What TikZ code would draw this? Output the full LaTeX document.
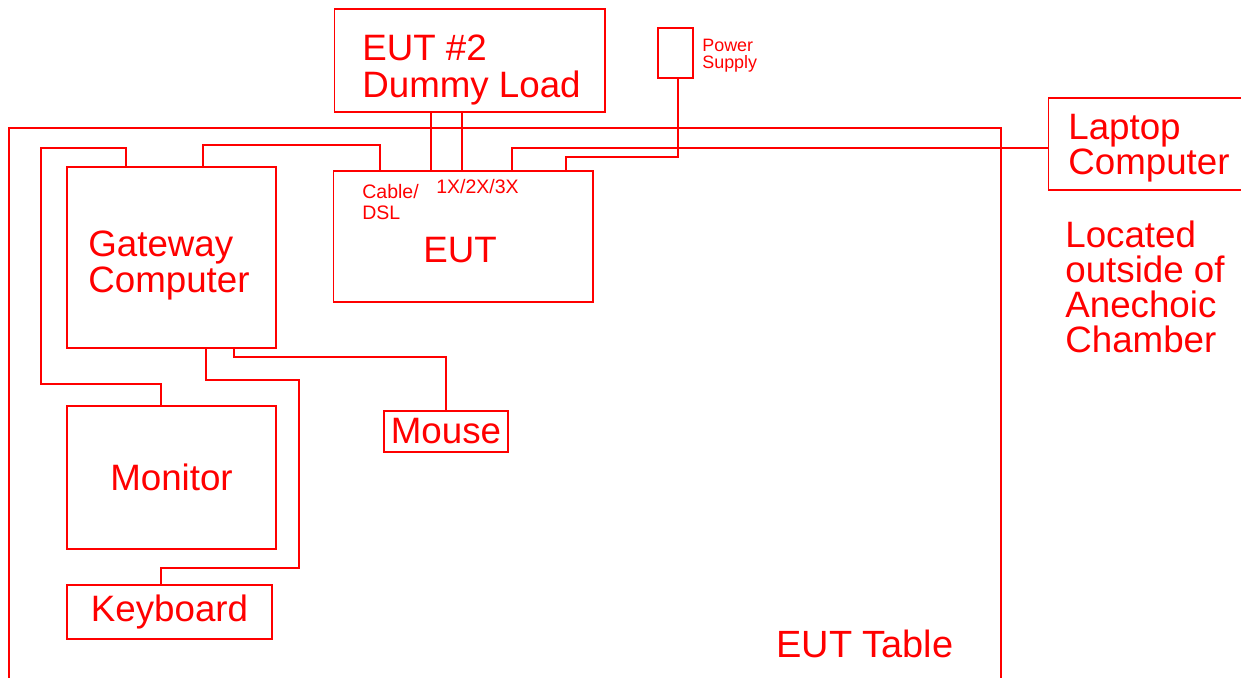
\documentclass[tikz,border=0pt]{standalone}
\usepackage{fontspec}
\setmainfont{Liberation Sans}
\usetikzlibrary{positioning}

\begin{document}
\begin{tikzpicture}[
  x=0.02cm, y=-0.02cm,
  font=\fontsize{20.9}{18}\selectfont,
  box/.style={draw=red, line width=0.6pt, text=red, inner sep=0pt, align=center},
  lbl/.style={text=red, inner sep=0pt, align=left},
  small/.style={font=\fontsize{11.1}{11.9}\selectfont},
  wire/.style={draw=red, line width=0.6pt}
]
\useasboundingbox (0,0) rectangle (1241,678);
\draw[wire] (9,678) |- (1001,128) -- (1001,678);
\node[lbl, anchor=base west, font=\fontsize{21.6}{18}\selectfont] (tablelbl) at (776,658) {EUT Table};
\node[box, minimum width=4.18cm, minimum height=3.62cm] (gateway) at (171.5,257.5) {};
\node[lbl, anchor=north west] (gatewaylbl) at (88,231) {Gateway\\Computer};
\node[box, minimum width=4.18cm, minimum height=2.86cm] (monitor) at (171.5,477.5) {Monitor};
\node[box, minimum width=4.10cm, minimum height=1.08cm] (keyboard) at (169.5,612) {Keyboard};
\node[box, minimum width=2.48cm, minimum height=0.82cm] (mouse) at (446,431.5) {Mouse};
\node[box, minimum width=5.20cm, minimum height=2.62cm] (eut) at (463,236.5) {};
\node[lbl] (eutlbl) at (460,250) {EUT};
\node[lbl, small, anchor=north west] (cablelbl) at (362,184) {Cable/\\DSL};
\node[lbl, small, anchor=base west] (portlbl) at (436,194) {1X/2X/3X};
\node[box, minimum width=5.42cm, minimum height=2.06cm] (dummy) at (469.5,60.5) {};
\node[lbl, anchor=north west, font=\fontsize{20.9}{20.5}\selectfont] (dummylbl) at (362,35) {EUT \#2\\Dummy Load};
\node[box, minimum width=0.70cm, minimum height=1.00cm] (power) at (675.5,53) {};
\node[lbl, anchor=north west, font=\fontsize{10.2}{10}\selectfont] (powerlbl) at (702,38.5) {Power\\Supply};
\node[box, minimum width=3.92cm, minimum height=1.84cm] (laptop) at (1146,144) {};
\node[lbl, anchor=north west, font=\fontsize{20.9}{18.5}\selectfont] (laptoplbl) at (1068,114) {Laptop\\Computer};
\node[lbl, anchor=north west, font=\fontsize{20.9}{19.8}\selectfont] (outside) at (1065,221)
  {Located\\outside of\\Anechoic\\Chamber};
\draw[wire] (monitor.north -| 161,0) |- (41,384) |- (126,148) -- (gateway.north -| 126,0);
\draw[wire] (gateway.north -| 203,0) |- (380,145) -- (eut.north -| 380,0);
\draw[wire] (gateway.south -| 206,0) |- (299,380) |- (161,568) -- (keyboard.north -| 161,0);
\draw[wire] (gateway.south -| 234,0) -- (234,357) -| (mouse.north);
\draw[wire] (dummy.south -| 431,0) -- (eut.north -| 431,0);
\draw[wire] (dummy.south -| 462,0) -- (eut.north -| 462,0);
\draw[wire] (eut.north -| 512,0) |- (laptop.west |- 0,148);
\draw[wire] (eut.north -| 566,0) |- (678,157) -- (power.south -| 678,0);
\end{tikzpicture}
\end{document}
